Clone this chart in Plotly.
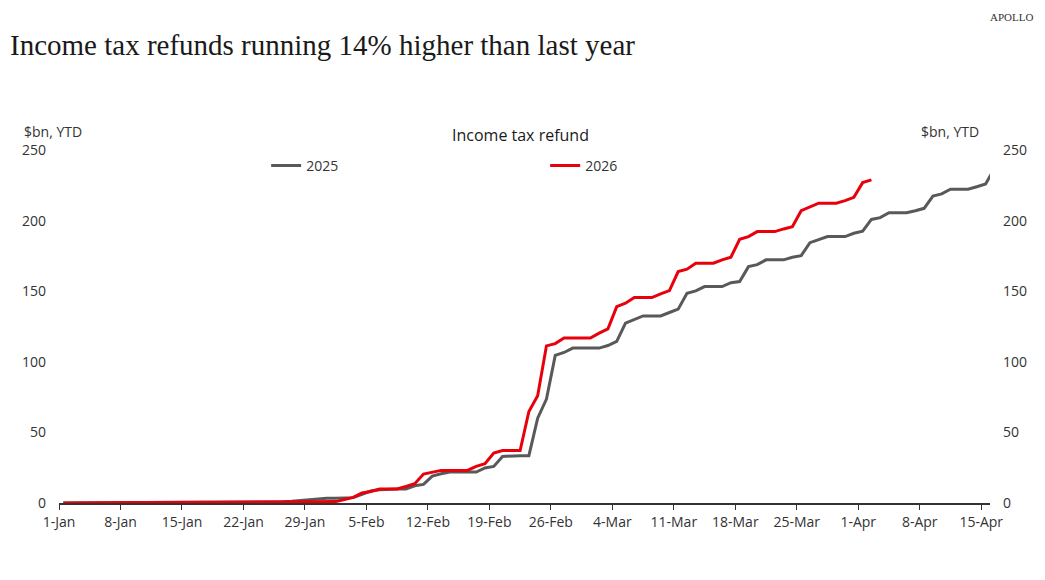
import pandas as pd
import plotly.graph_objects as go
from plotly.subplots import make_subplots

# cumulative income tax refunds, $bn YTD, one value per calendar day from 1-Jan
# (both years drawn on a common leap-year axis, so 29-Feb just repeats the day before)
refunds_2025 = [
    0.0, 0.1, 0.1, 0.2, 0.2, 0.3, 0.3, 0.3, 0.4, 0.4,
    0.4, 0.5, 0.5, 0.5, 0.5, 0.6, 0.6, 0.6, 0.6, 0.7,
    0.7, 0.7, 0.7, 0.8, 0.8, 0.9, 1.2, 1.8, 2.4, 2.8,
    3.3, 3.3, 3.3, 3.8, 6.2, 8.5, 9.4, 9.9, 9.9, 9.9,
    12.2, 13.2, 19.0, 20.7, 21.9, 21.9, 21.9, 21.9, 24.8, 25.9,
    33.0, 33.5, 33.5, 33.5, 60.1, 73.6, 104.5, 106.6, 109.7, 109.7,
    109.7, 109.7, 111.5, 114.4, 127.4, 129.7, 132.5, 132.5, 132.5, 134.9,
    137.3, 148.6, 150.2, 153.3, 153.3, 153.3, 156.0, 156.8, 167.4, 168.8,
    172.2, 172.2, 172.2, 174.0, 175.2, 184.4, 186.3, 188.7, 188.7, 188.7,
    191.0, 192.5, 200.8, 202.1, 205.6, 205.6, 205.6, 207.0, 208.7, 217.4,
    218.9, 222.2, 222.2, 222.2, 224.0, 225.9, 237.0,
]

refunds_2026 = [
    0.0, 0.1, 0.1, 0.1, 0.2, 0.2, 0.2, 0.3, 0.3, 0.3,
    0.3, 0.4, 0.4, 0.4, 0.4, 0.4, 0.5, 0.5, 0.5, 0.5,
    0.5, 0.5, 0.6, 0.6, 0.6, 0.6, 0.7, 0.8, 0.9, 1.0,
    1.0, 1.0, 2.5, 4.0, 7.1, 8.2, 9.9, 9.9, 9.9, 11.7,
    13.7, 20.5, 21.7, 23.1, 23.1, 23.1, 23.1, 25.9, 27.8, 35.4,
    37.2, 37.2, 37.2, 64.8, 76.0, 111.3, 112.9, 116.8, 116.8, 116.8,
    116.8, 120.3, 123.3, 139.1, 141.5, 145.5, 145.5, 145.5, 148.1, 150.4,
    163.9, 165.6, 169.8, 169.8, 169.8, 172.2, 174.1, 186.8, 188.7, 192.2,
    192.2, 192.2, 194.1, 195.7, 207.0, 209.9, 212.3, 212.3, 212.3, 214.1,
    216.5, 226.9, 228.8,
]

# points sit in the middle of each day, ticks at the start of the day
days_2025 = pd.date_range("2024-01-01 12:00", periods=len(refunds_2025), freq="D")
days_2026 = pd.date_range("2024-01-01 12:00", periods=len(refunds_2026), freq="D")

GRAY = "#595959"
RED = "#e8000b"
TXT = "#333333"
SANS = "Open Sans"

# page body has an 8px margin, so the figure is 8px smaller each way
W, H = 1037, 572

fig = make_subplots(specs=[[{"secondary_y": True}]])

fig.add_trace(
    go.Scatter(x=days_2025, y=refunds_2025, name="2025", mode="lines",
               line=dict(color=GRAY, width=3)),
    secondary_y=False,
)
fig.add_trace(
    go.Scatter(x=days_2026, y=refunds_2026, name="2026", mode="lines",
               line=dict(color=RED, width=3)),
    secondary_y=True,
)

fig.update_layout(
    width=W,
    height=H,
    margin=dict(l=51, r=55, t=142, b=77),
    paper_bgcolor="white",
    plot_bgcolor="white",
    font=dict(family=SANS, size=14, color=TXT),
    title=dict(
        text="Income tax refunds running 14% higher than last year",
        x=2 / W, xref="container", xanchor="left",
        y=1 - 37 / H, yref="container", yanchor="middle",
        font=dict(family="Liberation Serif", size=29, color="#1a1a1a"),
    ),
    legend=dict(
        orientation="h",
        x=0.2225, xanchor="left",
        y=0.9547, yanchor="middle",
        entrywidth=234, entrywidthmode="pixels",
        bgcolor="rgba(0,0,0,0)",
        font=dict(family=SANS, size=14, color=TXT),
    ),
    showlegend=True,
)

# chart headings
fig.add_annotation(text="Income tax refund", xref="paper", yref="paper",
                   x=0.4958, y=1.0425, xanchor="center", yanchor="middle",
                   showarrow=False, font=dict(family=SANS, size=16, color="#1a1a1a"))
fig.add_annotation(text="$bn, YTD", xref="paper", yref="paper",
                   x=-0.0401, y=1.0538, xanchor="left", yanchor="middle",
                   showarrow=False, font=dict(family=SANS, size=14, color=TXT))
fig.add_annotation(text="$bn, YTD", xref="paper", yref="paper",
                   x=0.9898, y=1.0538, xanchor="right", yanchor="middle",
                   showarrow=False, font=dict(family=SANS, size=14, color=TXT))
fig.add_annotation(text="APOLLO", xref="paper", yref="paper",
                   x=1.0478, y=1.3765, xanchor="right", yanchor="middle",
                   showarrow=False, font=dict(family="Liberation Serif", size=11, color="#333333"))

fig.update_xaxes(
    type="date",
    domain=[0, 1],
    range=["2024-01-01", "2024-04-16"],
    tick0="2024-01-01",
    dtick=7 * 86400000,
    tickformat="%-d-%b",
    ticks="outside",
    ticklen=5,
    tickcolor=TXT,
    showline=True,
    linecolor=TXT,
    linewidth=1.5,
    showgrid=False,
    zeroline=False,
)

fig.update_yaxes(range=[0, 250], dtick=50, showgrid=False, zeroline=False,
                 showline=False, ticks="", ticklabelstandoff=12,
                 automargin=False, secondary_y=False)
fig.update_yaxes(range=[0, 250], dtick=50, showgrid=False, zeroline=False,
                 showline=False, ticks="", ticklabelstandoff=12,
                 automargin=False, secondary_y=True)

fig.write_html("out.html")
